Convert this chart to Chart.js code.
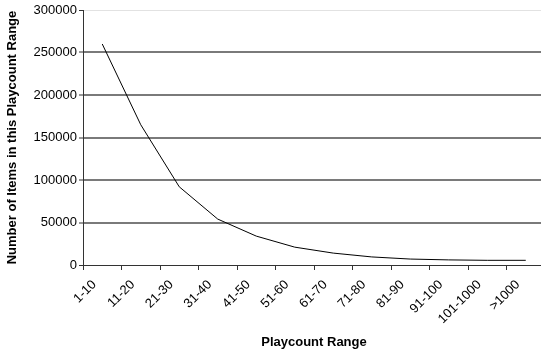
<!DOCTYPE html>
<html>
<head>
<meta charset="utf-8">
<script src="https://cdn.jsdelivr.net/npm/chart.js@4/dist/chart.umd.min.js"></script>
<style>
  html, body { margin: 0; padding: 0; background: #fff; overflow: hidden; }
  #wrap { position: absolute; left: 0; top: 0; width: 545px; height: 357px; }
</style>
</head>
<body>
<div id="wrap"><canvas id="c" width="545" height="357"></canvas></div>
<script>
const categories = ['1-10','11-20','21-30','31-40','41-50','51-60','61-70','71-80','81-90','91-100','101-1000','>1000'];
const itemCounts = [260000,165000,92000,54000,34000,21000,14000,9500,7000,6000,5500,5500];
const yTicks = [0,50000,100000,150000,200000,250000,300000];
const xTitle = 'Playcount Range';
const yTitle = 'Number of Items in this Playcount Range';

const FONT = "'Liberation Sans', Arial, sans-serif";

new Chart(document.getElementById('c'), {
  type: 'line',
  data: {
    labels: categories,
    datasets: [{
      data: itemCounts,
      borderColor: '#000',
      borderWidth: 1,
      pointRadius: 0,
      tension: 0,
      fill: false
    }]
  },
  options: {
    responsive: false,
    animation: false,
    devicePixelRatio: 1,
    layout: { padding: { top: 10, left: 0, right: 0, bottom: 0 } },
    plugins: { legend: { display: false }, tooltip: { enabled: false } },
    scales: {
      x: {
        type: 'category',
        offset: true,
        grid: { display: true, drawOnChartArea: false, drawTicks: true, tickLength: 5, offset: true, tickColor: '#333' },
        border: { color: '#333', width: 1 },
        ticks: { minRotation: 45, maxRotation: 45, autoSkip: false, color: '#000', font: { family: FONT, size: 13 }, padding: 7, labelOffset: -8 },
        title: { display: true, text: xTitle, color: '#000', font: { family: FONT, size: 13, weight: 'bold' }, padding: { top: 0, bottom: 7 } },
        afterFit: (s) => { s.height = 92; }
      },
      y: {
        min: 0, max: 300000,
        afterBuildTicks: (s) => { s.ticks = yTicks.map(v => ({ value: v })); },
        grid: {
          color: (ctx) => ctx.tick && ctx.tick.value === 300000 ? '#e2e2e2' : (ctx.tick && ctx.tick.value === 0 ? '#333' : '#7a7a7a'),
          lineWidth: (ctx) => ctx.tick && (ctx.tick.value === 300000 || ctx.tick.value === 0) ? 1 : 2,
          drawTicks: true, tickLength: 4, tickColor: '#333', tickWidth: 1
        },
        border: { color: '#333', width: 1 },
        ticks: { color: '#000', font: { family: FONT, size: 13 }, padding: 2, callback: (v) => String(v) },
        title: { display: true, text: yTitle, color: '#000', font: { family: FONT, size: 13, weight: 'bold' }, padding: { top: 5, bottom: 0 } },
        afterFit: (s) => { s.width = 83; }
      }
    }
  }
});
</script>
</body>
</html>
